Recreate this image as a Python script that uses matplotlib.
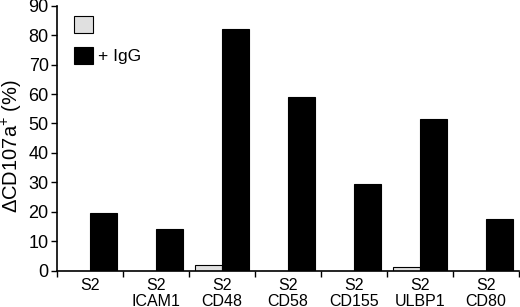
import matplotlib
matplotlib.use("Agg")
import matplotlib.pyplot as plt
import numpy as np

plt.rcParams['font.family'] = ['Liberation Sans', 'DejaVu Sans']
plt.rcParams['mathtext.fontset'] = 'custom'
plt.rcParams['mathtext.rm'] = 'Liberation Sans'
plt.rcParams['mathtext.it'] = 'Liberation Sans:italic'
plt.rcParams['mathtext.bf'] = 'Liberation Sans:bold'

categories = ["S2", "S2\nICAM1", "S2\nCD48", "S2\nCD58", "S2\nCD155", "S2\nULBP1", "S2\nCD80"]
control_vals = [0, 0, 1.9, 0, 0, 1.3, 0]
igg_vals = [19.7, 14.0, 82.0, 58.9, 29.6, 51.6, 17.7]
yticks = [0, 10, 20, 30, 40, 50, 60, 70, 80, 90]

fig = plt.figure(figsize=(5.2, 3.07), dpi=100)
ax = fig.add_axes([57/520, 1-270.7/307, (519-57)/520, (270.7-5.7)/307])

x = np.arange(len(categories))
w = 0.41
ax.bar(x - w/2, control_vals, w, color='#e0e0e0', edgecolor='black', linewidth=0.8, label=' ')
ax.bar(x + w/2, igg_vals, w, color='black', edgecolor='black', linewidth=0.8, label='+ IgG')

ax.set_xlim(-0.5, len(categories) - 0.5)
ax.set_ylim(0, 90)
ax.set_yticks(yticks)
ax.tick_params(axis='y', labelsize=13, length=4, width=1, direction='out', pad=2)
ax.set_xticks(x)
ax.set_xticklabels(categories, fontsize=11.5, linespacing=1.1)
ax.tick_params(axis='x', which='major', length=0, pad=5)
ax.set_xticks(np.arange(len(categories) + 1) - 0.5, minor=True)
ax.tick_params(axis='x', which='minor', length=4, width=1, direction='out')

for s in ['top', 'right']:
    ax.spines[s].set_visible(False)
for s in ['left', 'bottom']:
    ax.spines[s].set_linewidth(1.2)

ax.set_ylabel(r'ΔCD107a$^{\mathrm{+}}$ (%)', fontsize=14.5)
ax.yaxis.set_label_coords(-33/462, 0.47)

fig.legend(loc='upper left', bbox_to_anchor=(74/520, 1-16/307), frameon=False,
           fontsize=12.5, handlelength=1.1, handleheight=1.1, labelspacing=0.8,
           borderpad=0, borderaxespad=0, handletextpad=0.3)

fig.savefig('out.png', dpi=100)
